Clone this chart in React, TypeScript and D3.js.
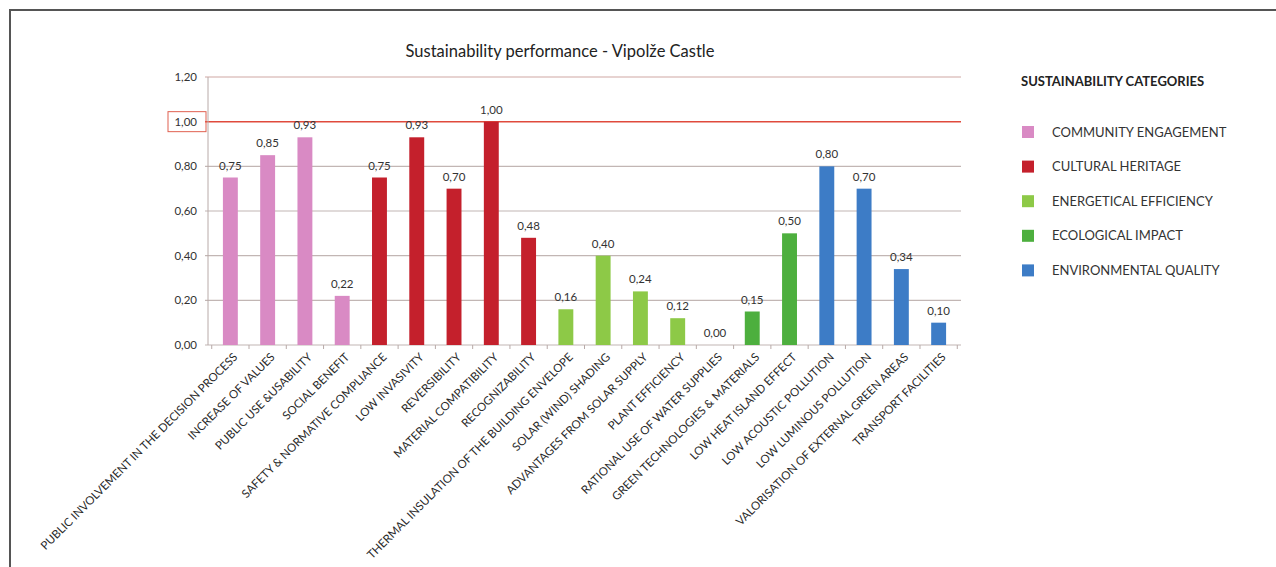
import React from "react";
import * as d3 from "d3";

const categories = [
  "PUBLIC INVOLVEMENT IN THE DECISION PROCESS",
  "INCREASE OF VALUES",
  "PUBLIC USE &USABILITY",
  "SOCIAL BENEFIT",
  "SAFETY & NORMATIVE COMPLIANCE",
  "LOW INVASIVITY",
  "REVERSIBILITY",
  "MATERIAL COMPATIBILITY",
  "RECOGNIZABILITY",
  "THERMAL INSULATION OF THE BUILDING ENVELOPE",
  "SOLAR (WIND) SHADING",
  "ADVANTAGES FROM SOLAR SUPPLY",
  "PLANT EFFICIENCY",
  "RATIONAL USE OF WATER SUPPLIES",
  "GREEN TECHNOLOGIES & MATERIALS",
  "LOW HEAT ISLAND EFFECT",
  "LOW ACOUSTIC POLLUTION",
  "LOW LUMINOUS POLLUTION",
  "VALORISATION OF EXTERNAL GREEN AREAS",
  "TRANSPORT FACILITIES",
];

const values = [0.75, 0.85, 0.93, 0.22, 0.75, 0.93, 0.7, 1.0, 0.48, 0.16, 0.4, 0.24, 0.12, 0.0, 0.15, 0.5, 0.8, 0.7, 0.34, 0.1];

const groupOf = [0, 0, 0, 0, 1, 1, 1, 1, 1, 2, 2, 2, 2, 2, 3, 3, 4, 4, 4, 4];

const legendNames = [
  "COMMUNITY ENGAGEMENT",
  "CULTURAL HERITAGE",
  "ENERGETICAL EFFICIENCY",
  "ECOLOGICAL IMPACT",
  "ENVIRONMENTAL QUALITY",
];
const legendColors = ["#d98ac4", "#c4202c", "#8dc947", "#4daf3e", "#3d7cc6"];

const yTicks = [0, 0.2, 0.4, 0.6, 0.8, 1.0, 1.2];

const FONT = "Lato, 'Open Sans', sans-serif";

export default function App() {
  const left = 208;
  const right = 961;
  const top = 77;
  const bottom = 345;

  const x = d3.scaleBand<string>().domain(categories).range([left, right]).paddingInner(0.6).paddingOuter(0.4);
  const y = d3.scaleLinear().domain([0, 1.2]).range([bottom, top]);
  const fmt = (v: number) => d3.format(".2f")(v).replace(".", ",");
  const step = x.step();
  const x0 = (x(categories[0]) as number) - step * x.paddingInner() / 2;

  return (
    <svg
      width={1276}
      height={567}
      style={{ position: "absolute", left: 0, top: 0, background: "#fff" }}
      fontFamily={FONT}
    >
      <rect x={0} y={0} width={1276} height={567} fill="#fff" />
      {/* frame */}
      <line x1={9} y1={10} x2={1276} y2={10} stroke="#555" strokeWidth={2} />
      <line x1={10} y1={10} x2={10} y2={567} stroke="#555" strokeWidth={2} />

      {/* title */}
      <text x={560} y={57} textAnchor="middle" fontSize={16.5} fill="#222">
        Sustainability performance - Vipolže Castle
      </text>

      {/* gridlines */}
      {yTicks.map((t) => (
        <line
          key={"g" + t}
          x1={left - 3}
          x2={right}
          y1={y(t)}
          y2={y(t)}
          stroke={t === 1 ? "#e04a3c" : t === 1.2 ? "#cfa8a4" : "#c2b6b4"}
          strokeWidth={t === 1 ? 1.5 : 1.2}
        />
      ))}
      {/* y axis */}
      <line x1={left} x2={left} y1={top} y2={bottom} stroke="#b8aaa8" strokeWidth={1} />
      {/* y tick labels */}
      {yTicks.map((t) => (
        <text key={"yl" + t} x={197} y={y(t)} dy="0.35em" textAnchor="end" fontSize={11.5} fill="#333">
          {fmt(t)}
        </text>
      ))}
      <rect x={168} y={y(1) - 10} width={38} height={20} fill="none" stroke="#e06050" strokeWidth={1} />

      {/* x axis ticks */}
      {d3.range(categories.length + 1).map((i) => {
        const tx = Math.min(right, Math.max(left, x0 + i * step));
        return (
          <line key={"xt" + i} x1={tx} x2={tx} y1={bottom} y2={bottom + 4} stroke="#b8aaa8" />
        );
      })}

      {/* bars */}
      {categories.map((c, i) => (
        <rect
          key={"b" + i}
          x={x(c)}
          y={y(values[i])}
          width={x.bandwidth()}
          height={bottom - y(values[i])}
          fill={legendColors[groupOf[i]]}
        />
      ))}
      {/* data labels */}
      {categories.map((c, i) => (
        <text
          key={"v" + i}
          x={(x(c) as number) + x.bandwidth() / 2}
          y={y(values[i]) - 8}
          textAnchor="middle"
          fontSize={11.5}
          fill="#333"
        >
          {fmt(values[i])}
        </text>
      ))}
      {/* category labels */}
      {categories.map((c, i) => {
        const cx = (x(c) as number) + x.bandwidth() / 2 + 5;
        return (
          <text
            key={"c" + i}
            transform={`translate(${cx},${bottom + 10}) rotate(-45)`}
            textAnchor="end"
            dy="0.35em"
            fontSize={11.5}
            fill="#2a2a2a"
          >
            {c}
          </text>
        );
      })}

      {/* legend */}
      <text x={1021} y={86} fontSize={13} fontWeight="bold" fill="#222">
        SUSTAINABILITY CATEGORIES
      </text>
      {legendNames.map((n, i) => (
        <g key={"l" + i} transform={`translate(1022,${132 + i * 34.6})`}>
          <rect x={0} y={-6} width={12} height={12} fill={legendColors[i]} />
          <text x={30} y={0} dy="0.35em" fontSize={13} fill="#333">
            {n}
          </text>
        </g>
      ))}
    </svg>
  );
}
